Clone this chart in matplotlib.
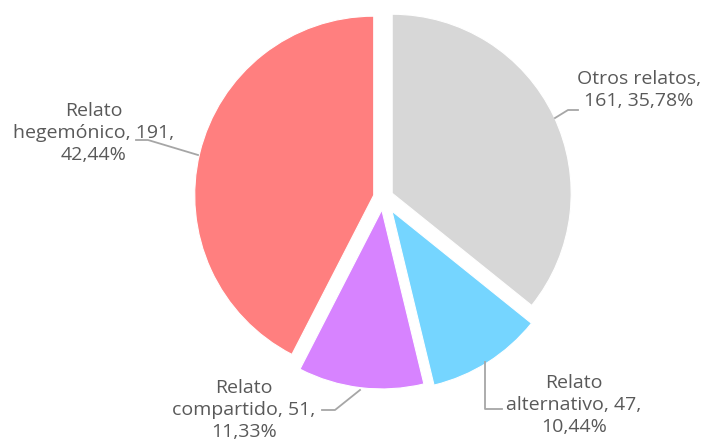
import matplotlib
matplotlib.use("Agg")
import matplotlib.pyplot as plt

# Datos del gráfico
categorias = ["Otros relatos", "Relato alternativo", "Relato compartido", "Relato hegemónico"]
valores = [161, 47, 51, 191]
porcentajes = ["35,78%", "10,44%", "11,33%", "42,44%"]
colores = ["#D7D7D7", "#75D5FF", "#D783FF", "#FF7F7F"]
separacion = [0.055, 0.09, 0.07, 0.055]

# Geometría en píxeles (figura 704x443)
W, H = 704, 443
CX, CY, R = 383.3, 197.5, 179.0


def px(x, y):
    # pasa coordenadas de píxel (y hacia abajo) a coordenadas del eje
    return (x - CX) / R, (CY - y) / R


fig = plt.figure(figsize=(W / 100, H / 100), dpi=100)
ax = fig.add_axes([0, 0, 1, 1])

ax.pie(
    valores,
    colors=colores,
    startangle=90,
    counterclock=False,
    explode=separacion,
    radius=1,
    wedgeprops=dict(edgecolor="white", linewidth=0.8),
)
ax.set_xlim(-CX / R, (W - CX) / R)
ax.set_ylim(-(H - CY) / R, CY / R)
ax.set_aspect("auto")
ax.axis("off")

# Etiquetas
textos = [
    f"Otros relatos,\n{valores[0]}, {porcentajes[0]}",
    f"Relato\nalternativo, {valores[1]},\n{porcentajes[1]}",
    f"Relato\ncompartido, {valores[2]},\n{porcentajes[2]}",
    f"Relato\nhegemónico, {valores[3]},\n{porcentajes[3]}",
]
pos_textos = [(639, 90), (574, 405), (244, 410), (94, 133)]
for t, (x, y) in zip(textos, pos_textos):
    ax.text(*px(x, y), t, ha="center", va="center", fontsize=14,
            family="Open Sans", color="#595959", linespacing=1.3)

# Líneas guía
guias = [
    [(578, 110), (568, 110), (555, 118)],
    [(502, 409), (485, 409), (485, 362)],
    [(322, 410), (335, 410), (360, 390)],
    [(136, 140), (148, 140), (198, 155)],
]
for g in guias:
    pts = [px(x, y) for x, y in g]
    ax.plot([p[0] for p in pts], [p[1] for p in pts], color="#A6A6A6", lw=1.3)

fig.savefig("out.png", dpi=100)
